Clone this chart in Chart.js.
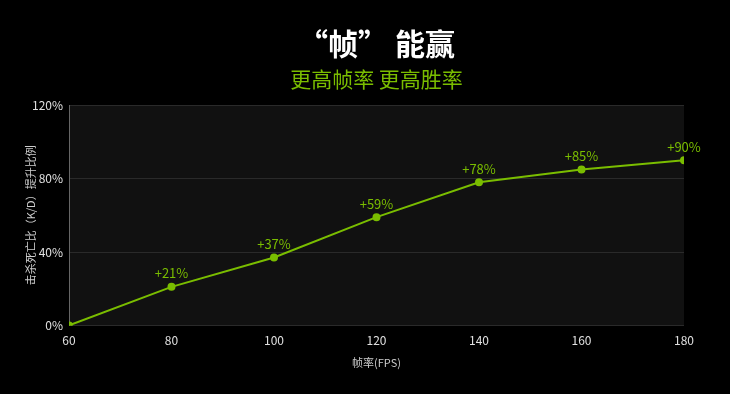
<!DOCTYPE html>
<html><head><meta charset="utf-8">
<script src="https://cdn.jsdelivr.net/npm/chart.js@4"></script>
<style>html,body{margin:0;padding:0;background:#000;}#w{width:730px;height:394px;}</style>
</head><body><div id="w"><canvas id="c"></canvas></div>
<script>
const fps = [60, 80, 100, 120, 140, 160, 180];
const kdGain = [0, 21, 37, 59, 78, 85, 90];
const yTicks = [0, 40, 80, 120];
const titleText = '“帧” 能赢';
const subtitleText = '更高帧率 更高胜率';
const xTitle = '帧率(FPS)';
const yTitle = '击杀死亡比（K/D）提升比例';
const green = '#7abd00';
const FONT = '"Noto Sans CJK SC", "Noto Sans", sans-serif';
const NUMFONT = '"Liberation Sans Narrow", "Noto Sans CJK SC", sans-serif';

const bgPlugin = {
  id: 'plotBg',
  beforeDraw(chart) {
    const {ctx, chartArea: a} = chart;
    ctx.save();
    ctx.fillStyle = '#111111';
    ctx.fillRect(a.left, a.top, a.right - a.left, a.bottom - a.top);
    ctx.restore();
  }
};
const labelPlugin = {
  id: 'valLabels',
  afterDatasetsDraw(chart) {
    const {ctx} = chart;
    const meta = chart.getDatasetMeta(0);
    ctx.save();
    ctx.fillStyle = green;
    ctx.font = '13px ' + NUMFONT;
    ctx.textAlign = 'center';
    ctx.textBaseline = 'bottom';
    meta.data.forEach((pt, i) => {
      if (i === 0) return;
      ctx.fillText('+' + kdGain[i] + '%', pt.x, pt.y - 7);
    });
    ctx.restore();
  }
};

new Chart(document.getElementById('c'), {
  type: 'line',
  data: {
    datasets: [{
      data: fps.map((x, i) => ({x, y: kdGain[i]})),
      borderColor: green,
      backgroundColor: green,
      borderWidth: 2,
      pointRadius: 3,
      pointHoverRadius: 3,
      tension: 0
    }]
  },
  options: {
    responsive: true,
    maintainAspectRatio: false,
    animation: false,
    layout: {padding: {left: 0, right: 46, top: 0, bottom: 21}},
    plugins: {
      legend: {display: false},
      tooltip: {enabled: false},
      title: {display: true, text: titleText, color: '#ffffff', fullSize: false,
        font: {family: FONT, size: 30, weight: 'bold', lineHeight: 1.2},
        padding: {top: 26, bottom: 4}},
      subtitle: {display: true, text: subtitleText, color: green, fullSize: false,
        font: {family: FONT, size: 21, lineHeight: 1.2},
        padding: {top: 0, bottom: 14}}
    },
    scales: {
      x: {
        type: 'linear', min: 60, max: 180,
        afterBuildTicks(s) { s.ticks = fps.map(v => ({value: v})); },
        grid: {display: false, drawTicks: false},
        border: {display: false},
        ticks: {color: '#e0e0e0', font: {family: NUMFONT, size: 12}, padding: 8},
        title: {display: true, text: xTitle, color: '#cccccc', font: {family: FONT, size: 11}, padding: {top: 0}}
      },
      y: {
        min: 0, max: 120,
        afterBuildTicks(s) { s.ticks = yTicks.map(v => ({value: v})); },
        afterFit(s) { s.width = 69; },
        grid: {color: '#2a2a2a', drawTicks: false},
        border: {display: true, color: '#666666', width: 1},
        ticks: {color: '#e0e0e0', font: {family: NUMFONT, size: 12}, padding: 6, callback: v => v + '%'},
        title: {display: true, text: yTitle, color: '#cccccc', font: {family: FONT, size: 11}, padding: {top: 24, bottom: 10}}
      }
    }
  },
  plugins: [bgPlugin, labelPlugin]
});
</script>
</body></html>
